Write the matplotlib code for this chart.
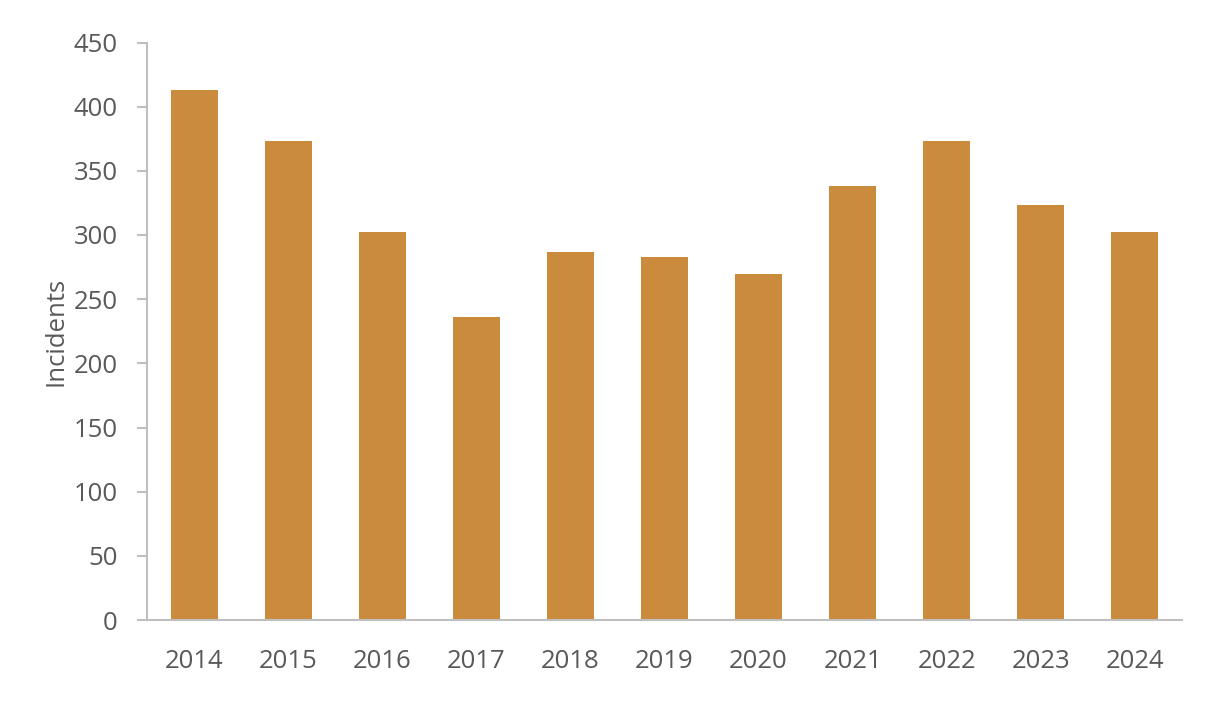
import matplotlib
matplotlib.use("Agg")
import matplotlib.pyplot as plt

years = ["2014", "2015", "2016", "2017", "2018", "2019", "2020", "2021", "2022", "2023", "2024"]
incidents = [413, 373, 302, 236, 287, 283, 270, 338, 373, 323, 302]
yticks = [0, 50, 100, 150, 200, 250, 300, 350, 400, 450]

plt.rcParams['font.family'] = ['Open Sans', 'DejaVu Sans']
txt = '#595959'
fig = plt.figure(figsize=(12.21, 7.18), dpi=100)
ax = fig.add_axes([147/1221, 98/718, 1035/1221, 577.5/718])
x = range(len(years))
ax.bar(x, incidents, width=0.5, color='#CB8B3D', zorder=2)
ax.set_xlim(-0.5, len(years) - 0.5)
ax.set_ylim(0, 450)
ax.set_yticks(yticks)
ax.set_xticks(list(x))
ax.set_xticklabels(years)
for s in ['top', 'right']:
    ax.spines[s].set_visible(False)
for s in ['left', 'bottom']:
    ax.spines[s].set_color('#BFBFBF')
    ax.spines[s].set_linewidth(1.5)
ax.tick_params(axis='y', colors='#BFBFBF', labelcolor=txt, labelsize=18.5, length=7, width=1.5, pad=14)
ax.tick_params(axis='x', length=0, labelcolor=txt, labelsize=18.5, pad=21)
ax.set_ylabel('Incidents', fontsize=18.5, color=txt, labelpad=4)
fig.savefig('out.png', dpi=100)
